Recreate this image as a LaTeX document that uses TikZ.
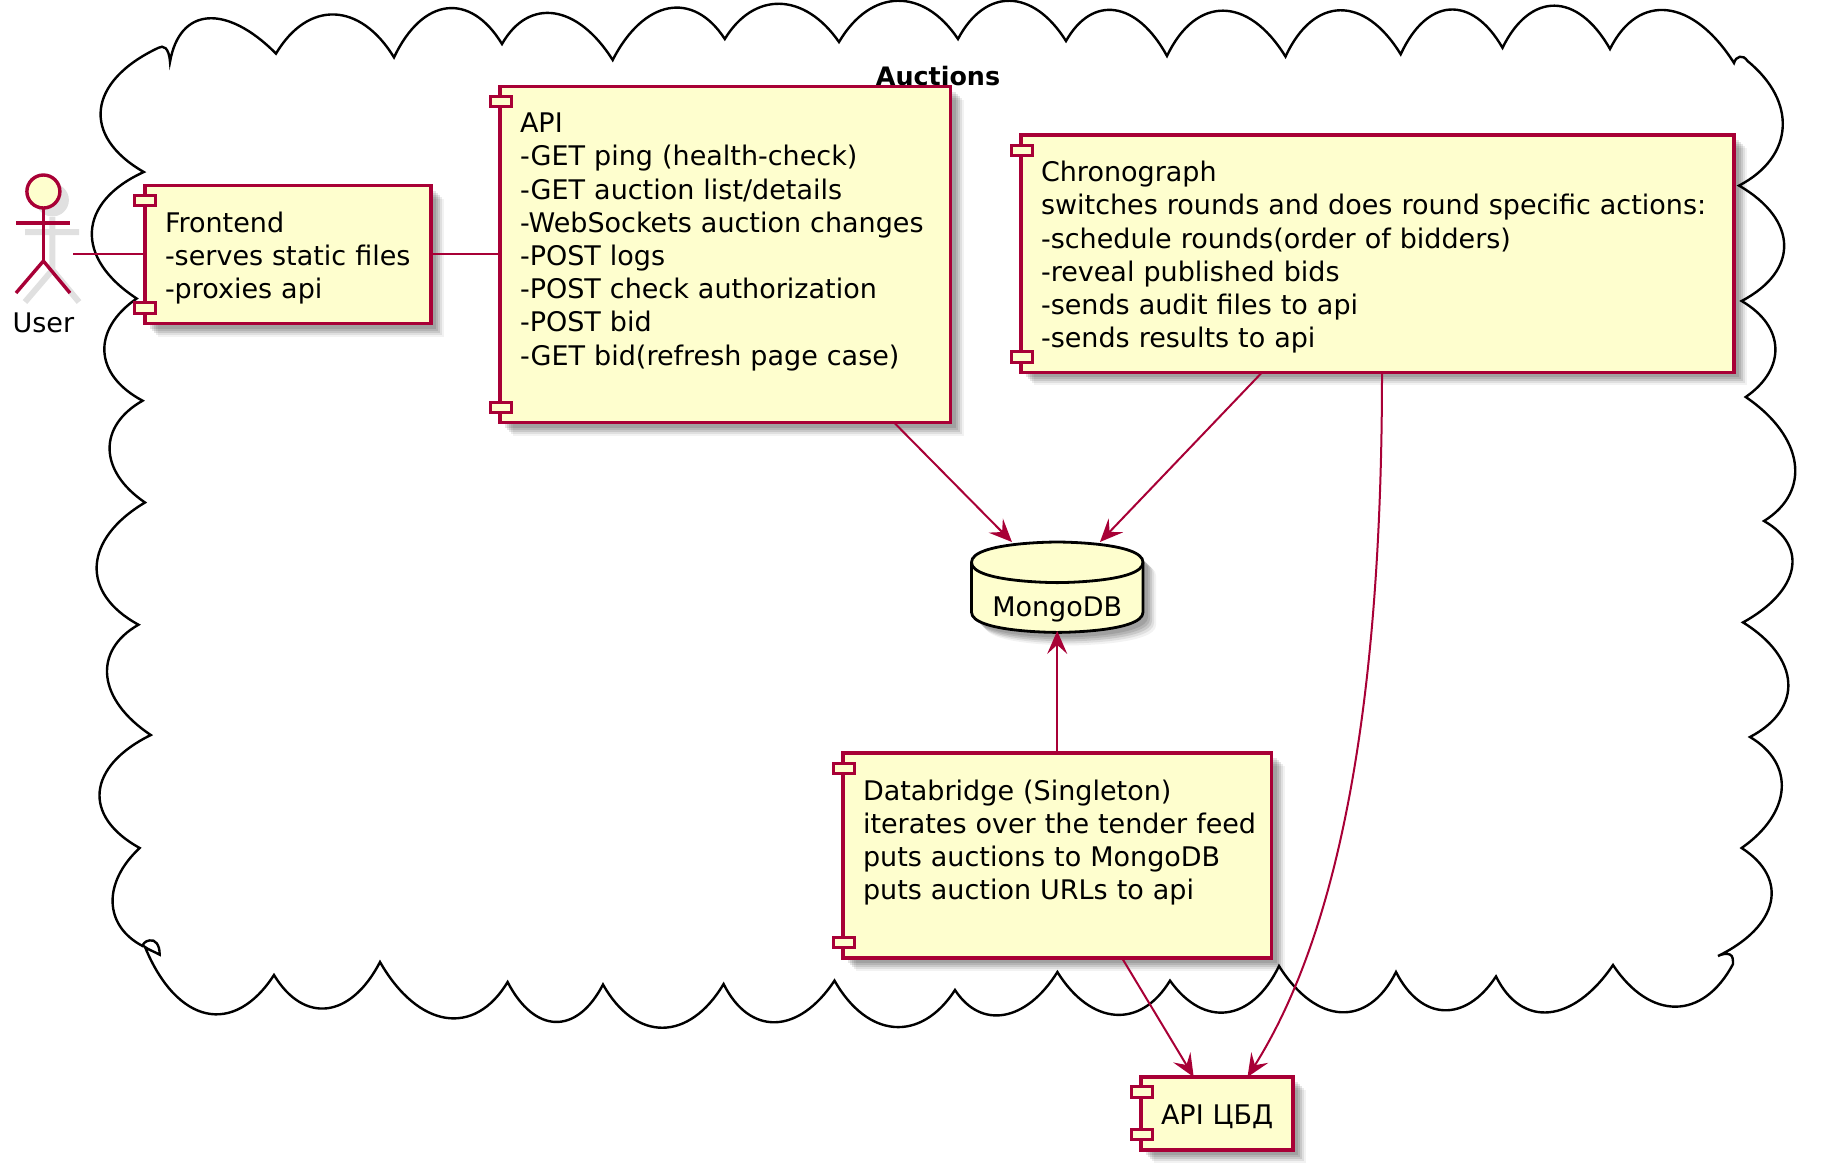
\documentclass[tikz,border=0pt]{standalone}
\usepackage{fontspec}
\setmainfont{DejaVu Sans}
\usetikzlibrary{arrows.meta,calc,shadows}
\definecolor{umlred}{HTML}{A80036}
\definecolor{umlfill}{HTML}{FEFECE}
\def\Scallop(#1)(#2)(#3){.. controls ($(#1)+1.333*(#2)-0.667*(#1)-0.667*(#3)+0.28*(#3)-0.28*(#1)$) and ($(#3)+1.333*(#2)-0.667*(#1)-0.667*(#3)-0.28*(#3)+0.28*(#1)$) .. (#3)}
\newcommand\firststrut{\rule{0pt}{30pt}}
\newcommand\laststrut{\rule[-8pt]{0pt}{8pt}}
\tikzset{
  softshadow/.style={
    general shadow={shadow xshift=5pt,shadow yshift=-5pt,fill=black,opacity=.1},
    general shadow={shadow xshift=7pt,shadow yshift=-7pt,fill=black,opacity=.1},
    general shadow={shadow xshift=9pt,shadow yshift=-9pt,fill=black,opacity=.1},
    general shadow={shadow xshift=11pt,shadow yshift=-11pt,fill=black,opacity=.08},
    general shadow={shadow xshift=13pt,shadow yshift=-13pt,fill=black,opacity=.05}},
  txt/.style={font=\fontsize{27}{33.2}\selectfont,text=black},
  comp/.style={txt,draw=umlred,fill=umlfill,line width=3.2pt,rectangle,anchor=north west,
    outer sep=0pt,inner xsep=20pt,inner ysep=0pt,align=left,softshadow},
  port/.style={draw=umlred,fill=umlfill,line width=3pt,rectangle,minimum width=21pt,minimum height=10.5pt,
    inner sep=0pt,outer sep=0pt},
  link/.style={draw=umlred,line width=2pt},
  flow/.style={link,-{Stealth[length=23pt,width=20pt,inset=9pt]}},
  actorline/.style={draw=umlred,line width=3.4pt},
  actorshade/.style={draw=black,opacity=.12,line width=6pt},
  cloudline/.style={draw=black,line width=2.4pt,line join=miter}
}
\begin{document}
\begin{tikzpicture}[x=1pt,y=-1pt]
\useasboundingbox (0,0) rectangle (1837,1168);
% cloud
\draw[cloudline]
 (170,62) \Scallop(170,62)(208,18.4)(276,53.6)
 \Scallop(276,53.6)(334.5,14.5)(394,57.4)
 \Scallop(394,57.4)(447,8.4)(502,44)
 \Scallop(502,44)(554.6,13.4)(612.7,60)
 \Scallop(612.7,60)(669,8.4)(724.8,39)
 \Scallop(724.8,39)(780.5,3.8)(839,42)
 \Scallop(839,42)(898,0.8)(958,39)
 \Scallop(958,39)(1010.6,0.8)(1066,41)
 \Scallop(1066,41)(1116,10.3)(1167,56)
 \Scallop(1167,56)(1224,10.7)(1285.5,56.6)
 \Scallop(1285.5,56.6)(1341,10.3)(1400.7,54.3)
 \Scallop(1400.7,54.3)(1451,9.6)(1502.5,47.8)
 \Scallop(1502.5,47.8)(1555.7,5.7)(1610,49)
 \Scallop(1610,49)(1668.5,10.3)(1734,63)
 .. controls (1736,56) and (1743,54) .. (1747.5,61)
 \Scallop(1747.5,61)(1784,128)(1739,185.6)
 \Scallop(1739,185.6)(1785.5,245)(1741.6,301)
 \Scallop(1741.6,301)(1776.7,348)(1745.7,397)
 \Scallop(1745.7,397)(1796,463)(1764,521)
 \Scallop(1764,521)(1793,570)(1743,622.4)
 \Scallop(1743,622.4)(1789.6,683)(1750,737)
 \Scallop(1750,737)(1783,790)(1741.6,848)
 \Scallop(1741.6,848)(1772,903)(1718,956)
 .. controls (1722,954) and (1727,953) .. (1730,954.6)
 .. controls (1733,956) and (1733,960) .. (1733,964)
 \Scallop(1733,964)(1677,1007.4)(1613,965)
 \Scallop(1613,965)(1550.4,1013)(1496,976.4)
 \Scallop(1496,976.4)(1445,1011)(1396,972)
 \Scallop(1396,972)(1342,1013)(1279,966)
 \Scallop(1279,966)(1228,1013)(1170,980.6)
 \Scallop(1170,980.6)(1116,1015.5)(1057.4,972)
 \Scallop(1057.4,972)(1005,1015.5)(955,990)
 \Scallop(955,990)(895,1027.7)(834.5,980.6)
 \Scallop(834.5,980.6)(776,1023)(723.6,984)
 \Scallop(723.6,984)(663,1028.5)(603,984.5)
 \Scallop(603,984.5)(556,1022.7)(507.6,982)
 \Scallop(507.6,982)(446,1018.5)(380,962)
 \Scallop(380,962)(327.5,1009)(274,975)
 \Scallop(274,975)(206.6,1014)(145,947)
 .. controls (147,949) and (155,952) .. (159.6,954.6)
 .. controls (160,945) and (155,939) .. (149.6,940.4)
 .. controls (145,941) and (143,944) .. (142.6,946)
 \Scallop(142.6,946)(112.7,903)(139.7,848)
 \Scallop(139.7,848)(99.8,792)(150.8,735)
 \Scallop(150.8,735)(107.4,677)(138.5,624.7)
 \Scallop(138.5,624.7)(96.8,566)(145,502.5)
 \Scallop(145,502.5)(109.7,449.7)(142.6,400.7)
 \Scallop(142.6,400.7)(104.5,352)(136.7,298.5)
 \Scallop(136.7,298.5)(92,231.5)(143.8,172)
 \Scallop(143.8,172)(101,109)(158.4,47.8)
 .. controls (163,45) and (169,47) .. (170,62) -- cycle;
\node[font=\fontsize{25.4}{33}\selectfont\bfseries,text=black] (title) at (938,76) {Auctions};

% database
\path[draw=black,fill=umlfill,line width=2.8pt,softshadow]
  (971.5,562.3) .. controls (971.5,542) and (1057.2,542) .. (1057.2,542)
  .. controls (1057.2,542) and (1143,542) .. (1143,562.3)
  -- (1143,612.1) .. controls (1143,632.4) and (1057.2,632.4) .. (1057.2,632.4)
  .. controls (1057.2,632.4) and (971.5,632.4) .. (971.5,612.1) -- cycle;
\draw[draw=black,line width=2.8pt]
  (971.5,562.3) .. controls (971.5,582.6) and (1057.2,582.6) .. (1057.2,582.6)
  .. controls (1057.2,582.6) and (1143,582.6) .. (1143,562.3);
\node[txt,minimum width=171.5pt,minimum height=90.4pt,inner sep=0pt,outer sep=0pt] (mongo) at (1057.2,587.2)
  {\raisebox{-29.5pt}[0pt][0pt]{MongoDB}};

% components
\node[comp,text width=246pt,minimum width=286pt,minimum height=138.2pt] (frontend) at (145,185.6)
  {\firststrut Frontend\\-serves static files\\-proxies api\laststrut};
\node[comp,text width=410.5pt,minimum width=450.5pt,minimum height=336pt] (api) at (500,86.5)
  {\firststrut API\\-GET ping (health-check)\\-GET auction list/details\\-WebSockets auction changes\\-POST logs\\-POST check authorization\\-POST bid\\-GET bid(refresh page case)\\~\laststrut};
\node[comp,text width=673pt,minimum width=713pt,minimum height=237.4pt] (chrono) at (1021,135)
  {\firststrut Chronograph\\\mbox{switches rounds and does round specific actions:}\\-schedule rounds(order of bidders)\\-reveal published bids\\-sends audit files to api\\-sends results to api\laststrut};
\node[comp,text width=388.5pt,minimum width=428.5pt,minimum height=205pt] (databridge) at (843,753)
  {\firststrut Databridge (Singleton)\\\mbox{iterates over the tender feed}\\puts auctions to MongoDB\\puts auction URLs to api\\~\laststrut};
\node[comp,text width=112pt,minimum width=152pt,minimum height=73pt] (cbd) at (1141,1077)
  {\firststrut\mbox{API ЦБД}\laststrut};

% ports
\node[port] (fp1) at (144.5,200.3) {};
\node[port] (fp2) at (144.5,308.2) {};
\node[port] (ap1) at (500.5,101.5) {};
\node[port] (ap2) at (500.5,407.5) {};
\node[port] (cp1) at (1021.5,150.6) {};
\node[port] (cp2) at (1021.5,357.2) {};
\node[port] (dp1) at (843.5,768.3) {};
\node[port] (dp2) at (843.5,942.7) {};
\node[port] (bp1) at (1141.5,1092) {};
\node[port] (bp2) at (1141.5,1134.5) {};

% actor
\begin{scope}[shift={(9,9)}]
  \draw[actorshade] (16,223) -- (70,223) (43.4,208) -- (43.4,261) (16,293) -- (43.4,261) -- (70,293);
  \fill[black,opacity=.12] (43.4,191) circle (16.5);
\end{scope}
\node[circle,draw=umlred,fill=umlfill,line width=3.4pt,minimum size=33pt,inner sep=0pt,outer sep=0pt] (userhead) at (43.4,191.5) {};
\coordinate (userhip) at (43.4,261);
\coordinate (userlh) at (16,223);
\coordinate (userrh) at (70,223);
\coordinate (userlf) at (16,293);
\coordinate (userrf) at (70,293);
\draw[actorline] (userhead) -- (userhip);
\draw[actorline] (userlh) -- (userrh);
\draw[actorline] (userlf) -- (userhip) -- (userrf);
\node[txt,inner sep=0pt] (user) at (43.4,322.5) {User};
\coordinate (userside) at (73.4,254);

% connectors
\draw[link] (userside) -- (frontend.west |- userside);
\draw[link] (frontend.east |- userside) -- (api.west |- userside);
\draw[flow] ($(api.south west)+(394,0)$) -- ($(mongo.north west)+(40.5,0)$);
\draw[flow] ($(chrono.south west)+(241,0)$) -- ($(mongo.north west)+(128.5,0)$);
\draw[flow] (databridge.north -| mongo.north) -- ($(mongo.south)+(0,-1.5)$);
\draw[flow] ($(databridge.south west)+(279,0)$) -- ($(cbd.north west)+(52.7,0)$);
\draw[flow] ($(chrono.south west)+(361,0)$) .. controls (1382,700) and (1340,930) .. ($(cbd.north west)+(106.5,0)$);
\end{tikzpicture}
\end{document}
